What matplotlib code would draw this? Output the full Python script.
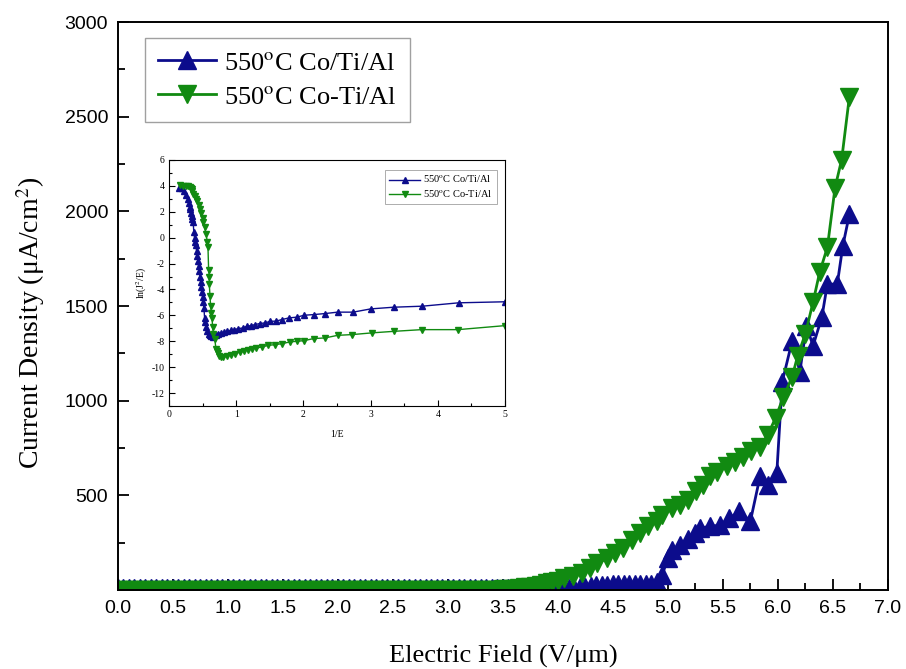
import matplotlib
matplotlib.use("Agg")
import matplotlib.pyplot as plt
from matplotlib.ticker import MultipleLocator, FixedLocator

plt.rcParams['mathtext.fontset'] = 'stix'
plt.rcParams['axes.unicode_minus'] = False

BLUE = '#0c0c8c'
GREEN = '#118a11'

# main plot: J-E curves (field in V/um, current density in uA/cm2)
blue_field = [
    0.00, 0.05, 0.10, 0.15, 0.20, 0.25, 0.30, 0.35, 0.40, 0.45,
    0.50, 0.55, 0.60, 0.65, 0.70, 0.75, 0.80, 0.85, 0.90, 0.95,
    1.00, 1.05, 1.10, 1.15, 1.20, 1.25, 1.30, 1.35, 1.40, 1.45,
    1.50, 1.55, 1.60, 1.65, 1.70, 1.75, 1.80, 1.85, 1.90, 1.95,
    2.00, 2.05, 2.10, 2.15, 2.20, 2.25, 2.30, 2.35, 2.40, 2.45,
    2.50, 2.55, 2.60, 2.65, 2.70, 2.75, 2.80, 2.85, 2.90, 2.95,
    3.00, 3.05, 3.10, 3.15, 3.20, 3.25, 3.30, 3.35, 3.40, 3.45,
    3.50, 3.55, 3.60, 3.65, 3.70, 3.75, 3.80, 3.85, 3.90, 3.95,
    4.00, 4.05, 4.10, 4.15, 4.20, 4.25, 4.30, 4.35, 4.40, 4.45,
    4.50, 4.55, 4.60, 4.65, 4.70, 4.75, 4.80, 4.85,
    4.90, 4.95, 5.00, 5.04, 5.11, 5.18, 5.25, 5.29, 5.38, 5.47,
    5.56, 5.65, 5.75, 5.84, 5.91, 5.99, 6.04, 6.13, 6.20, 6.26,
    6.32, 6.40, 6.45, 6.54, 6.59, 6.65,
]
blue_current = [
    12, 12, 12, 12, 12, 12, 12, 12, 12, 12,
    12, 12, 12, 12, 12, 12, 12, 12, 12, 12,
    12, 12, 12, 12, 12, 12, 12, 12, 12, 12,
    12, 12, 12, 12, 12, 12, 12, 12, 12, 12,
    12, 12, 12, 12, 12, 12, 12, 12, 12, 12,
    12, 12, 12, 12, 12, 12, 12, 12, 12, 12,
    12, 12, 12, 12, 12, 12, 12, 12, 12, 12,
    12, 12, 12, 12, 12, 12, 12, 12, 12, 12,
    12, 12, 12, 12, 14, 18, 24, 26, 28, 28,
    30, 30, 30, 31, 31, 32, 32, 34,
    40, 80, 170, 211, 237, 270, 300, 326, 337, 342,
    379, 416, 363, 605, 553, 616, 1100, 1316, 1153, 1395,
    1290, 1442, 1616, 1616, 1816, 1984,
]

green_field = [
    0.00, 0.05, 0.10, 0.15, 0.20, 0.25, 0.30, 0.35, 0.40, 0.45,
    0.50, 0.55, 0.60, 0.65, 0.70, 0.75, 0.80, 0.85, 0.90, 0.95,
    1.00, 1.05, 1.10, 1.15, 1.20, 1.25, 1.30, 1.35, 1.40, 1.45,
    1.50, 1.55, 1.60, 1.65, 1.70, 1.75, 1.80, 1.85, 1.90, 1.95,
    2.00, 2.05, 2.10, 2.15, 2.20, 2.25, 2.30, 2.35, 2.40, 2.45,
    2.50, 2.55, 2.60, 2.65, 2.70, 2.75, 2.80, 2.85, 2.90, 2.95,
    3.00, 3.05, 3.10, 3.15, 3.20, 3.25, 3.30, 3.35, 3.40, 3.45,
    3.50, 3.55, 3.60, 3.65, 3.70, 3.75, 3.80, 3.85, 3.90, 3.95,
    4.00, 4.06, 4.14, 4.22, 4.29, 4.36, 4.45, 4.52, 4.59, 4.67,
    4.75, 4.82, 4.90, 4.95, 5.04, 5.11, 5.18, 5.26, 5.32, 5.38,
    5.45, 5.54, 5.61, 5.68, 5.76, 5.84, 5.91, 5.98, 6.05, 6.13,
    6.18, 6.25, 6.32, 6.38, 6.45, 6.52, 6.58, 6.65,
]
green_current = [
    2, 2, 2, 2, 2, 2, 2, 2, 2, 2,
    2, 2, 2, 2, 2, 2, 2, 2, 2, 2,
    2, 2, 2, 2, 2, 2, 2, 2, 2, 2,
    2, 2, 2, 2, 2, 2, 2, 2, 2, 2,
    2, 2, 2, 2, 2, 2, 2, 2, 2, 2,
    2, 2, 2, 2, 2, 2, 2, 2, 2, 2,
    2, 2, 2, 2, 2, 2, 2, 2, 2, 2,
    3, 5, 8, 10, 14, 18, 22, 28, 35, 42,
    50, 63, 74, 89, 116, 142, 168, 195, 221, 263,
    300, 337, 363, 395, 432, 447, 474, 521, 553, 600,
    626, 653, 679, 705, 732, 758, 821, 911, 1020, 1126,
    1237, 1353, 1521, 1679, 1810, 2126, 2274, 2605,
]

# inset: F-N plot, ln(J/E^2) against 1/E
blue_inv_field = [
    0.15, 0.19, 0.23, 0.26, 0.28, 0.30, 0.31, 0.32, 0.33, 0.34,
    0.35, 0.36, 0.37, 0.38, 0.39, 0.40, 0.41, 0.42, 0.43, 0.44,
    0.45, 0.46, 0.47, 0.48, 0.49, 0.50, 0.51, 0.52, 0.53, 0.54,
    0.55, 0.57, 0.59, 0.61, 0.63, 0.66, 0.70, 0.73, 0.77, 0.82,
    0.87, 0.92, 0.97, 1.03, 1.10, 1.16, 1.22, 1.28, 1.35, 1.43,
    1.51, 1.59, 1.68, 1.79, 1.90, 2.01, 2.15, 2.32, 2.51, 2.74,
    3.00, 3.34, 3.77, 4.31, 5.00,
]
blue_ln = [
    3.8, 3.8, 3.6, 3.3, 3.0, 2.7, 2.4, 2.2, 1.9, 1.7,
    1.4, 1.2, 0.4, 0.0, -0.3, -0.6, -1.0, -1.4, -1.8, -2.2,
    -2.6, -3.0, -3.4, -3.8, -4.2, -4.6, -5.0, -5.4, -6.2, -6.5,
    -6.9, -7.2, -7.4, -7.5, -7.6, -7.65, -7.5, -7.43, -7.35, -7.3,
    -7.23, -7.15, -7.1, -7.02, -6.97, -6.84, -6.79, -6.71, -6.63, -6.58,
    -6.45, -6.45, -6.32, -6.19, -6.14, -5.99, -5.94, -5.86, -5.75, -5.75,
    -5.5, -5.37, -5.29, -5.03, -4.95,
]

green_inv_field = [
    0.16, 0.21, 0.26, 0.29, 0.31, 0.33, 0.34, 0.35, 0.36, 0.38,
    0.40, 0.42, 0.44, 0.46, 0.48, 0.50, 0.51, 0.53, 0.55, 0.57,
    0.58, 0.59, 0.60, 0.60, 0.61, 0.62, 0.63, 0.64, 0.65, 0.66,
    0.68, 0.70, 0.71, 0.73, 0.75, 0.77, 0.81, 0.86, 0.92, 0.98,
    1.05, 1.11, 1.17, 1.23, 1.30, 1.38, 1.48, 1.58, 1.68, 1.80,
    1.90, 2.01, 2.15, 2.32, 2.51, 2.73, 3.02, 3.35, 3.76, 4.30,
    5.00,
]
green_ln = [
    4.05, 4.0, 4.0, 3.95, 3.9, 3.85, 3.75, 3.6, 3.4, 3.2,
    3.0, 2.8, 2.5, 2.2, 1.9, 1.5, 1.2, 0.8, 0.3, -0.3,
    -0.7, -2.5, -3.0, -3.6, -4.5, -5.3, -5.8, -6.2, -6.9, -7.4,
    -7.8, -8.6, -8.75, -8.9, -9.1, -9.21, -9.21, -9.16, -9.03, -8.95,
    -8.85, -8.77, -8.65, -8.59, -8.52, -8.44, -8.31, -8.26, -8.18, -8.05,
    -8.0, -7.95, -7.79, -7.74, -7.54, -7.48, -7.35, -7.23, -7.1, -7.1,
    -6.79,
]

labels = [r'550$^{\rm o}$C Co/Ti/Al', r'550$^{\rm o}$C Co-Ti/Al']

fig = plt.figure(figsize=(9.06, 6.69), dpi=100)
ax = fig.add_axes([0.130, 0.118, 0.850, 0.849])

ax.plot(blue_field, blue_current, color=BLUE, lw=2, marker='^',
        ms=13, label=labels[0])
ax.plot(green_field, green_current, color=GREEN, lw=2, marker='v',
        ms=13, label=labels[1])

ax.set_xlim(0, 7.0)
ax.set_ylim(0, 3000)
ax.xaxis.set_major_locator(MultipleLocator(0.5))
ax.xaxis.set_minor_locator(MultipleLocator(0.25))
ax.yaxis.set_major_locator(FixedLocator([500, 1000, 1500, 2000, 2500, 3000]))
ax.yaxis.set_minor_locator(MultipleLocator(250))
ax.xaxis.set_major_formatter(plt.FormatStrFormatter('%.1f'))
ax.tick_params(which='both', direction='in', width=1.3, top=False, right=False)
ax.tick_params(which='major', length=8, labelsize=14, pad=7)
ax.tick_params(which='minor', length=5)
for lab in ax.get_xticklabels() + ax.get_yticklabels():
    lab.set_family('Liberation Sans')
for sp in ax.spines.values():
    sp.set_linewidth(1.4)

ax.set_xlabel('Electric Field (V/μm)', family='Liberation Serif', fontsize=19, labelpad=20)
ax.set_ylabel('Current Density (μA/cm$^{2}$)', family='Liberation Serif', fontsize=20)
ax.yaxis.set_label_coords(-0.092, 0.47)

leg = ax.legend(loc='upper left', bbox_to_anchor=(0.035, 0.972), borderaxespad=0,
                prop={'family': 'Liberation Serif', 'size': 19},
                fancybox=False, edgecolor='#888888', handlelength=2.2,
                borderpad=0.5, labelspacing=0.4, handletextpad=0.3)
leg.get_frame().set_linewidth(1.0)

# inset
ins = fig.add_axes([0.1865, 0.393, 0.371, 0.368])
ins.plot(blue_inv_field, blue_ln, color=BLUE, lw=1, marker='^', ms=5, label=labels[0])
ins.plot(green_inv_field, green_ln, color=GREEN, lw=1, marker='v', ms=5, label=labels[1])
ins.set_xlim(0, 5)
ins.set_ylim(-13, 6)
ins.xaxis.set_major_locator(MultipleLocator(1))
ins.xaxis.set_minor_locator(MultipleLocator(0.5))
ins.yaxis.set_major_locator(MultipleLocator(2))
ins.yaxis.set_minor_locator(MultipleLocator(1))
ins.tick_params(which='both', direction='in', width=0.8, top=False, right=False)
ins.tick_params(which='major', length=4, labelsize=7, pad=3)
ins.tick_params(which='minor', length=2)
for lab in ins.get_xticklabels() + ins.get_yticklabels():
    lab.set_family('Liberation Serif')
for sp in ins.spines.values():
    sp.set_linewidth(0.8)
ins.set_xlabel('1/E', family='Liberation Serif', fontsize=7, labelpad=8)
ins.set_ylabel('ln(J$^{2}$/E)', family='Liberation Serif', fontsize=7, labelpad=2)
ileg = ins.legend(loc='upper right', bbox_to_anchor=(0.975, 0.96), borderaxespad=0,
                  prop={'family': 'Liberation Serif', 'size': 7.5},
                  fancybox=False, edgecolor='#888888', handlelength=3.0,
                  borderpad=0.4, labelspacing=0.3, handletextpad=0.3)
ileg.get_frame().set_linewidth(0.6)

fig.savefig('out.png', dpi=100)
